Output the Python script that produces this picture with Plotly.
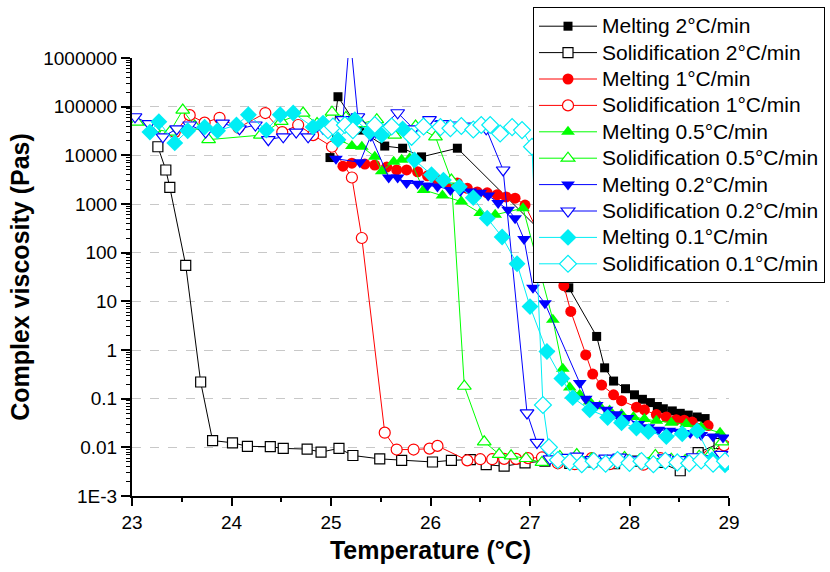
import plotly.graph_objects as go

# ---------------- data: complex viscosity vs temperature ----------------
melt_2_T = [24.99, 25.07, 25.29, 25.54, 25.72, 25.91, 26.27, 27.20, 27.39, 27.67, 27.75, 27.84,
            27.96, 28.05, 28.13, 28.21, 28.28, 28.34, 28.43, 28.51, 28.59, 28.68, 28.76]
melt_2_eta = [9000, 160000, 33000, 15500, 14000, 9300, 14000, 180, 19, 1.9, 0.43, 0.23,
              0.16, 0.12, 0.097, 0.083, 0.069, 0.062, 0.056, 0.050, 0.046, 0.042, 0.039]

sol_2_T = [23.26, 23.34, 23.38, 23.54, 23.69, 23.81, 24.01, 24.16, 24.39, 24.52, 24.76, 24.90,
           25.08, 25.22, 25.49, 25.71, 26.02, 26.21, 26.40, 26.56, 26.74, 26.95, 27.15, 27.40,
           27.62, 27.85, 28.08, 28.30, 28.51, 28.69, 28.90]
sol_2_eta = [15000, 5000, 2200, 55, 0.22, 0.0138, 0.0124, 0.0105, 0.0103, 0.0095, 0.0092, 0.0080,
             0.0095, 0.0068, 0.0058, 0.0054, 0.0050, 0.0054, 0.0056, 0.0044, 0.0041, 0.0048, 0.0052,
             0.0047, 0.0050, 0.0046, 0.0052, 0.0049, 0.0033, 0.0078, 0.012]

melt_1_T = [25.12, 25.21, 25.34, 25.44, 25.56, 25.66, 25.76, 25.87, 25.97, 26.07, 26.17, 26.27,
            26.37, 26.47, 26.57, 26.67, 26.76, 26.85, 26.95, 27.34, 27.41, 27.56, 27.63, 27.72,
            27.84, 27.92, 28.07, 28.15, 28.27, 28.37, 28.47, 28.55, 28.63, 28.79]
melt_1_eta = [6000, 6900, 6600, 6300, 5750, 5000, 5000, 4600, 3800, 3100, 2800, 2700,
              2100, 1770, 1700, 1550, 1400, 1320, 950, 21, 6.2, 0.79, 0.32, 0.19,
              0.12, 0.091, 0.067, 0.059, 0.047, 0.042, 0.037, 0.036, 0.033, 0.028]

sol_1_T = [23.43, 23.58, 23.73, 23.88, 24.07, 24.34, 24.51, 24.67, 24.82, 25.01, 25.21, 25.31,
           25.54, 25.66, 25.83, 25.99, 26.07, 26.37, 26.50, 26.62, 26.74, 26.86, 26.98, 27.12,
           27.28, 27.45, 27.62, 27.80, 27.97, 28.14, 28.31, 28.48, 28.64, 28.80, 28.95]
sol_1_eta = [30000, 67000, 47000, 59000, 37000, 74000, 30000, 42000, 26000, 15000, 3500, 200,
             0.02, 0.009, 0.009, 0.0094, 0.0107, 0.0054, 0.0057, 0.0057, 0.0058, 0.0058, 0.0060,
             0.0062, 0.0047, 0.0045, 0.0060, 0.0045, 0.0055, 0.0044, 0.0060, 0.0050, 0.0055,
             0.0068, 0.011]

melt_05_T = [25.08, 25.21, 25.31, 25.44, 25.51, 25.63, 25.71, 25.79, 25.93, 26.12, 26.31, 26.50,
             26.65, 26.93, 27.23, 27.33, 27.40, 27.50, 27.60, 27.70, 27.80, 27.92, 28.04, 28.15,
             28.27, 28.42, 28.57, 28.72, 28.91]
melt_05_eta = [21000, 15600, 15000, 9400, 4700, 7400, 8100, 8700, 1950, 1500, 1120, 650,
               600, 820, 4.2, 0.41, 0.17, 0.12, 0.087, 0.070, 0.057, 0.048, 0.042, 0.038,
               0.035, 0.032, 0.030, 0.026, 0.020]

sol_05_T = [23.05, 23.22, 23.38, 23.51, 23.63, 23.77, 24.29, 24.50, 24.72, 24.86, 25.01, 25.15,
            25.30, 25.46, 25.64, 25.85, 26.05, 26.21, 26.34, 26.54, 26.69, 26.81, 26.96, 27.12,
            27.30, 27.47, 27.62, 27.78, 27.95, 28.10, 28.26, 28.42, 28.56, 28.70, 28.82, 28.93]
sol_05_eta = [48000, 35000, 30000, 85000, 40000, 21000, 26000, 50000, 74000, 45000, 77000, 60000,
              45000, 54000, 26000, 40000, 24000, 3100, 0.18, 0.013, 0.0072, 0.0067, 0.0059, 0.0049,
              0.0065, 0.0071, 0.0058, 0.0052, 0.0062, 0.0055, 0.0068, 0.0057, 0.0054, 0.0066,
              0.0075, 0.013]

melt_02_T = [25.05, 25.29, 25.40, 25.58, 25.67, 25.76, 25.87, 25.97, 26.07, 26.20, 26.30, 26.40,
             26.50, 26.58, 26.68, 26.78, 26.85, 26.94, 27.03, 27.15, 27.50, 27.56, 27.67, 27.77,
             27.87, 27.98, 28.09, 28.19, 28.29, 28.40, 28.50, 28.61, 28.72, 28.84, 28.94]
melt_02_eta = [8500, 7200, 25000, 3500, 3500, 2700, 2600, 2400, 2300, 1950, 1850, 1800,
               1700, 1500, 1050, 760, 510, 190, 19, 9.1, 0.21, 0.10, 0.074, 0.059,
               0.048, 0.040, 0.030, 0.026, 0.023, 0.022, 0.021, 0.0196, 0.018, 0.0167, 0.016]

sol_02_T = [23.03, 23.17, 23.31, 23.45, 23.58, 23.74, 23.91, 24.08, 24.24, 24.37, 24.52, 24.65,
            24.77, 24.92, 25.05, 25.12, 25.19, 25.27, 25.45, 25.67, 25.83, 25.99, 26.12, 26.23,
            26.40, 26.56, 26.73, 26.97, 27.07, 27.20, 27.33, 27.47, 27.62, 27.76, 27.90, 28.05,
            28.20, 28.35, 28.50, 28.64, 28.78, 28.92]
sol_02_eta = [62000, 45000, 24000, 35000, 42000, 30000, 46000, 35000, 42000, 21000, 24000, 30000,
              24000, 36000, 40000, 54000, 3100000, 62000, 30000, 75000, 35000, 54000, 45000, 42000,
              40000, 35000, 5000, 0.051, 0.0126, 0.0058, 0.0062, 0.0066, 0.0056, 0.0060, 0.0063,
              0.0055, 0.0049, 0.0061, 0.0056, 0.0064, 0.0058, 0.0072]

melt_01_T = [23.18, 23.27, 23.43, 23.56, 23.73, 23.86, 24.05, 24.17, 24.35, 24.49, 24.62, 24.82,
             24.92, 25.07, 25.24, 25.39, 25.51, 25.72, 25.84, 26.01, 26.13, 26.29, 26.43, 26.57,
             26.72, 26.87, 27.00, 27.17, 27.32, 27.43, 27.60, 27.78, 27.92, 28.07, 28.19, 28.37,
             28.53, 28.68, 28.83, 28.96]
melt_01_eta = [30000, 49000, 18000, 32000, 38000, 32000, 42000, 68000, 33000, 68000, 74000, 38000,
               46000, 21000, 54000, 30000, 26000, 35000, 8000, 4000, 3100, 2250, 1350, 510,
               210, 59, 7.8, 0.93, 0.26, 0.105, 0.059, 0.041, 0.032, 0.025, 0.021, 0.0166,
               0.019, 0.022, 0.0056, 0.0044]

sol_01_T = [24.97, 25.02, 25.14, 25.22, 25.44, 25.61, 25.81, 25.93, 26.10, 26.20, 26.31, 26.43,
            26.51, 26.60, 26.70, 26.82, 26.92, 27.02, 27.13, 27.19, 27.28, 27.40, 27.52, 27.64,
            27.76, 27.88, 28.00, 28.12, 28.24, 28.36, 28.48, 28.60, 28.72, 28.84, 28.96]
sol_01_eta = [33000, 39000, 42000, 33000, 42000, 39000, 24000, 39000, 38000, 36000, 40000, 34000,
              42000, 42000, 28000, 38000, 33000, 15000, 0.074, 0.010, 0.0055, 0.0050, 0.0045,
              0.0052, 0.0046, 0.0055, 0.0048, 0.0052, 0.0045, 0.0053, 0.0049, 0.0047, 0.0054,
              0.0046, 0.0052]

x_ticks = [23, 24, 25, 26, 27, 28, 29]
y_tick_vals = [1e-3, 1e-2, 1e-1, 1, 10, 100, 1000, 1e4, 1e5, 1e6]
y_tick_text = ["1E-3", "0.01", "0.1", "1", "10", "100", "1000", "10000", "100000", "1000000"]

# (name, T, eta, colour, symbol, size, filled)
series = [
    ("Melting 2°C/min", melt_2_T, melt_2_eta, "#000000", "square", 9, True),
    ("Solidification 2°C/min", sol_2_T, sol_2_eta, "#000000", "square", 10, False),
    ("Melting 1°C/min", melt_1_T, melt_1_eta, "#FF0000", "circle", 11, True),
    ("Solidification 1°C/min", sol_1_T, sol_1_eta, "#FF0000", "circle", 11, False),
    ("Melting 0.5°C/min", melt_05_T, melt_05_eta, "#00FF00", "triangle-up", 12, True),
    ("Solidification 0.5°C/min", sol_05_T, sol_05_eta, "#00FF00", "triangle-up", 12, False),
    ("Melting 0.2°C/min", melt_02_T, melt_02_eta, "#0000FF", "triangle-down", 12, True),
    ("Solidification 0.2°C/min", sol_02_T, sol_02_eta, "#0000FF", "triangle-down", 12, False),
    ("Melting 0.1°C/min", melt_01_T, melt_01_eta, "#00EEF5", "diamond", 13, True),
    ("Solidification 0.1°C/min", sol_01_T, sol_01_eta, "#00EEF5", "diamond", 13, False),
]

FONT = "Arial, Liberation Sans, sans-serif"

fig = go.Figure()
for name, T, eta, colour, symbol, size, filled in series:
    fig.add_trace(go.Scatter(
        x=T, y=eta, mode="lines+markers",
        name='<span style="font-size:21px">' + name + "</span>",
        line=dict(color=colour, width=1),
        marker=dict(symbol=symbol, size=size,
                    color=colour if filled else "white",
                    line=dict(color=colour, width=0 if filled else 1.2)),
    ))

fig.update_layout(
    width=830, height=572,
    margin=dict(l=132, r=101, t=58, b=76, autoexpand=False),
    paper_bgcolor="white", plot_bgcolor="white",
    font=dict(family=FONT, color="black"),
    showlegend=True,
    legend=dict(
        x=(533 - 132) / 597, xanchor="left",
        y=(496 - 7) / 438, yanchor="top",
        bgcolor="white", bordercolor="black", borderwidth=1,
        font=dict(family=FONT, size=18, color="black"),
        itemwidth=58, tracegroupgap=0,
    ),
    xaxis=dict(
        range=[23, 29], tickmode="array", tickvals=x_ticks,
        ticks="outside", ticklen=8, tickwidth=1.5, tickcolor="black",
        minor=dict(ticks="outside", ticklen=4, tickwidth=1.5, tickcolor="black",
                   tickmode="linear", tick0=23, dtick=0.5, showgrid=False),
        showline=True, linewidth=2, linecolor="black",
        showgrid=False, zeroline=False,
        tickfont=dict(family=FONT, size=19),
        title=dict(text="Temperature (°C)", standoff=10,
                   font=dict(family=FONT, size=25, weight="bold")),
    ),
    yaxis=dict(
        type="log", range=[-3, 6], tickmode="array",
        tickvals=y_tick_vals, ticktext=y_tick_text,
        ticks="outside", ticklen=9, tickwidth=1.5, tickcolor="black",
        minor=dict(ticks="outside", ticklen=4, tickwidth=1, tickcolor="black",
                   tickmode="linear", dtick="D1", showgrid=False),
        showline=True, linewidth=2, linecolor="black",
        showgrid=True, gridcolor="#C8C8C8", griddash="dash", gridwidth=1,
        zeroline=False,
        tickfont=dict(family=FONT, size=19),
        title=dict(text="Complex viscosity (Pas)", standoff=6,
                   font=dict(family=FONT, size=25, weight="bold")),
    ),
)

fig.write_html("out.html")
